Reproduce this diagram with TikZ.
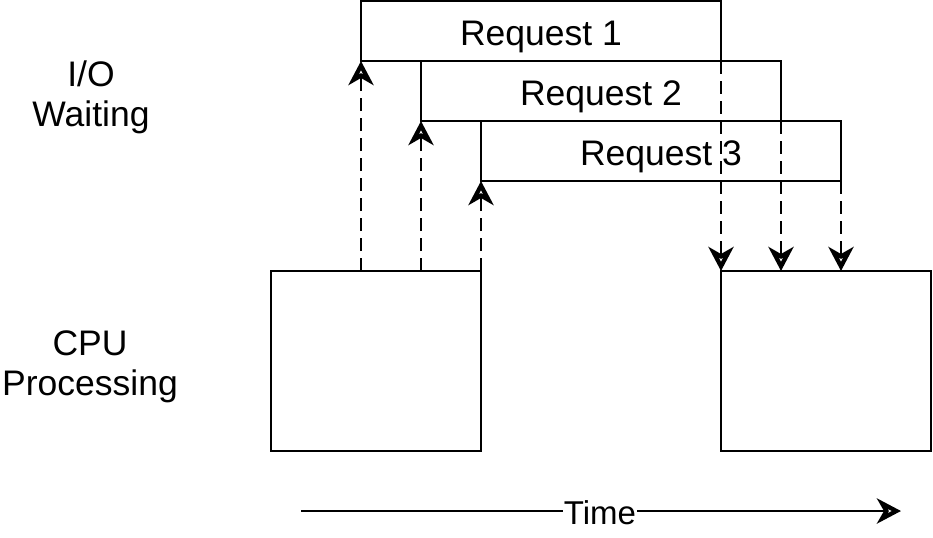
\documentclass[tikz,border=0pt]{standalone}
\usepackage{fontspec}
\setmainfont{Liberation Sans}
\usetikzlibrary{arrows.meta}
\begin{document}
\begin{tikzpicture}[x=0.5pt,y=-0.5pt,
  box/.style={draw,line width=1.25pt,outer sep=0pt,minimum width=180pt,minimum height=30pt,inner sep=0pt,anchor=north west},
  cpubox/.style={draw,line width=1.25pt,outer sep=0pt,minimum width=105pt,minimum height=90pt,inner sep=0pt,anchor=north west},
  lbl/.style={align=center,inner sep=0pt,font=\fontsize{17.75}{20}\selectfont},
  tipa/.style={-{Stealth[open,length=12pt,width=12.5pt,inset=3.5pt,line width=2.6pt]}},
  dasharrow/.style={tipa,line width=1.25pt,dash pattern=on 6.5pt off 3.5pt}]
\useasboundingbox (0,0) rectangle (933,537);
\node[box] (r1) at (361,1) {};
\node[box] (r2) at (421,61) {};
\node[box] (r3) at (481,121) {};
\node[lbl] (r1t) at ([yshift=-3pt]r1.center) {Request 1};
\node[lbl] (r2t) at ([yshift=-3pt]r2.center) {Request 2};
\node[lbl] (r3t) at ([yshift=-3pt]r3.center) {Request 3};
\node[cpubox] (c1) at (271,271) {};
\node[cpubox] (c2) at (721,271) {};
\node[lbl] (io) at (91,97) {I/O\\Waiting};
\node[lbl] (cpu) at (90,367) {CPU\\Processing};
% arrow end points on the CPU boxes
\coordinate (u1) at (361,271);
\coordinate (u2) at (421,271);
\coordinate (d2) at (781,271);
\coordinate (d3) at (841,271);
% up arrows
\draw[dasharrow] (u1) -- (r1.south west);
\draw[dasharrow] (u2) -- (r2.south west);
\draw[dasharrow] (c1.north east) -- (r3.south west);
% down arrows
\draw[dasharrow] (r1.south east) -- (c2.north west);
\draw[dasharrow] (r2.south east) -- (d2);
\draw[dasharrow] (r3.south east) -- (d3);
% time
\coordinate (t0) at (301,511);
\coordinate (t1) at (901,511);
\draw[tipa,line width=1.25pt] (t0) -- (t1);
\node[fill=white,inner sep=0.5pt,font=\fontsize{16.5}{20}\selectfont] (time) at (600,513) {Time};
\end{tikzpicture}
\end{document}
